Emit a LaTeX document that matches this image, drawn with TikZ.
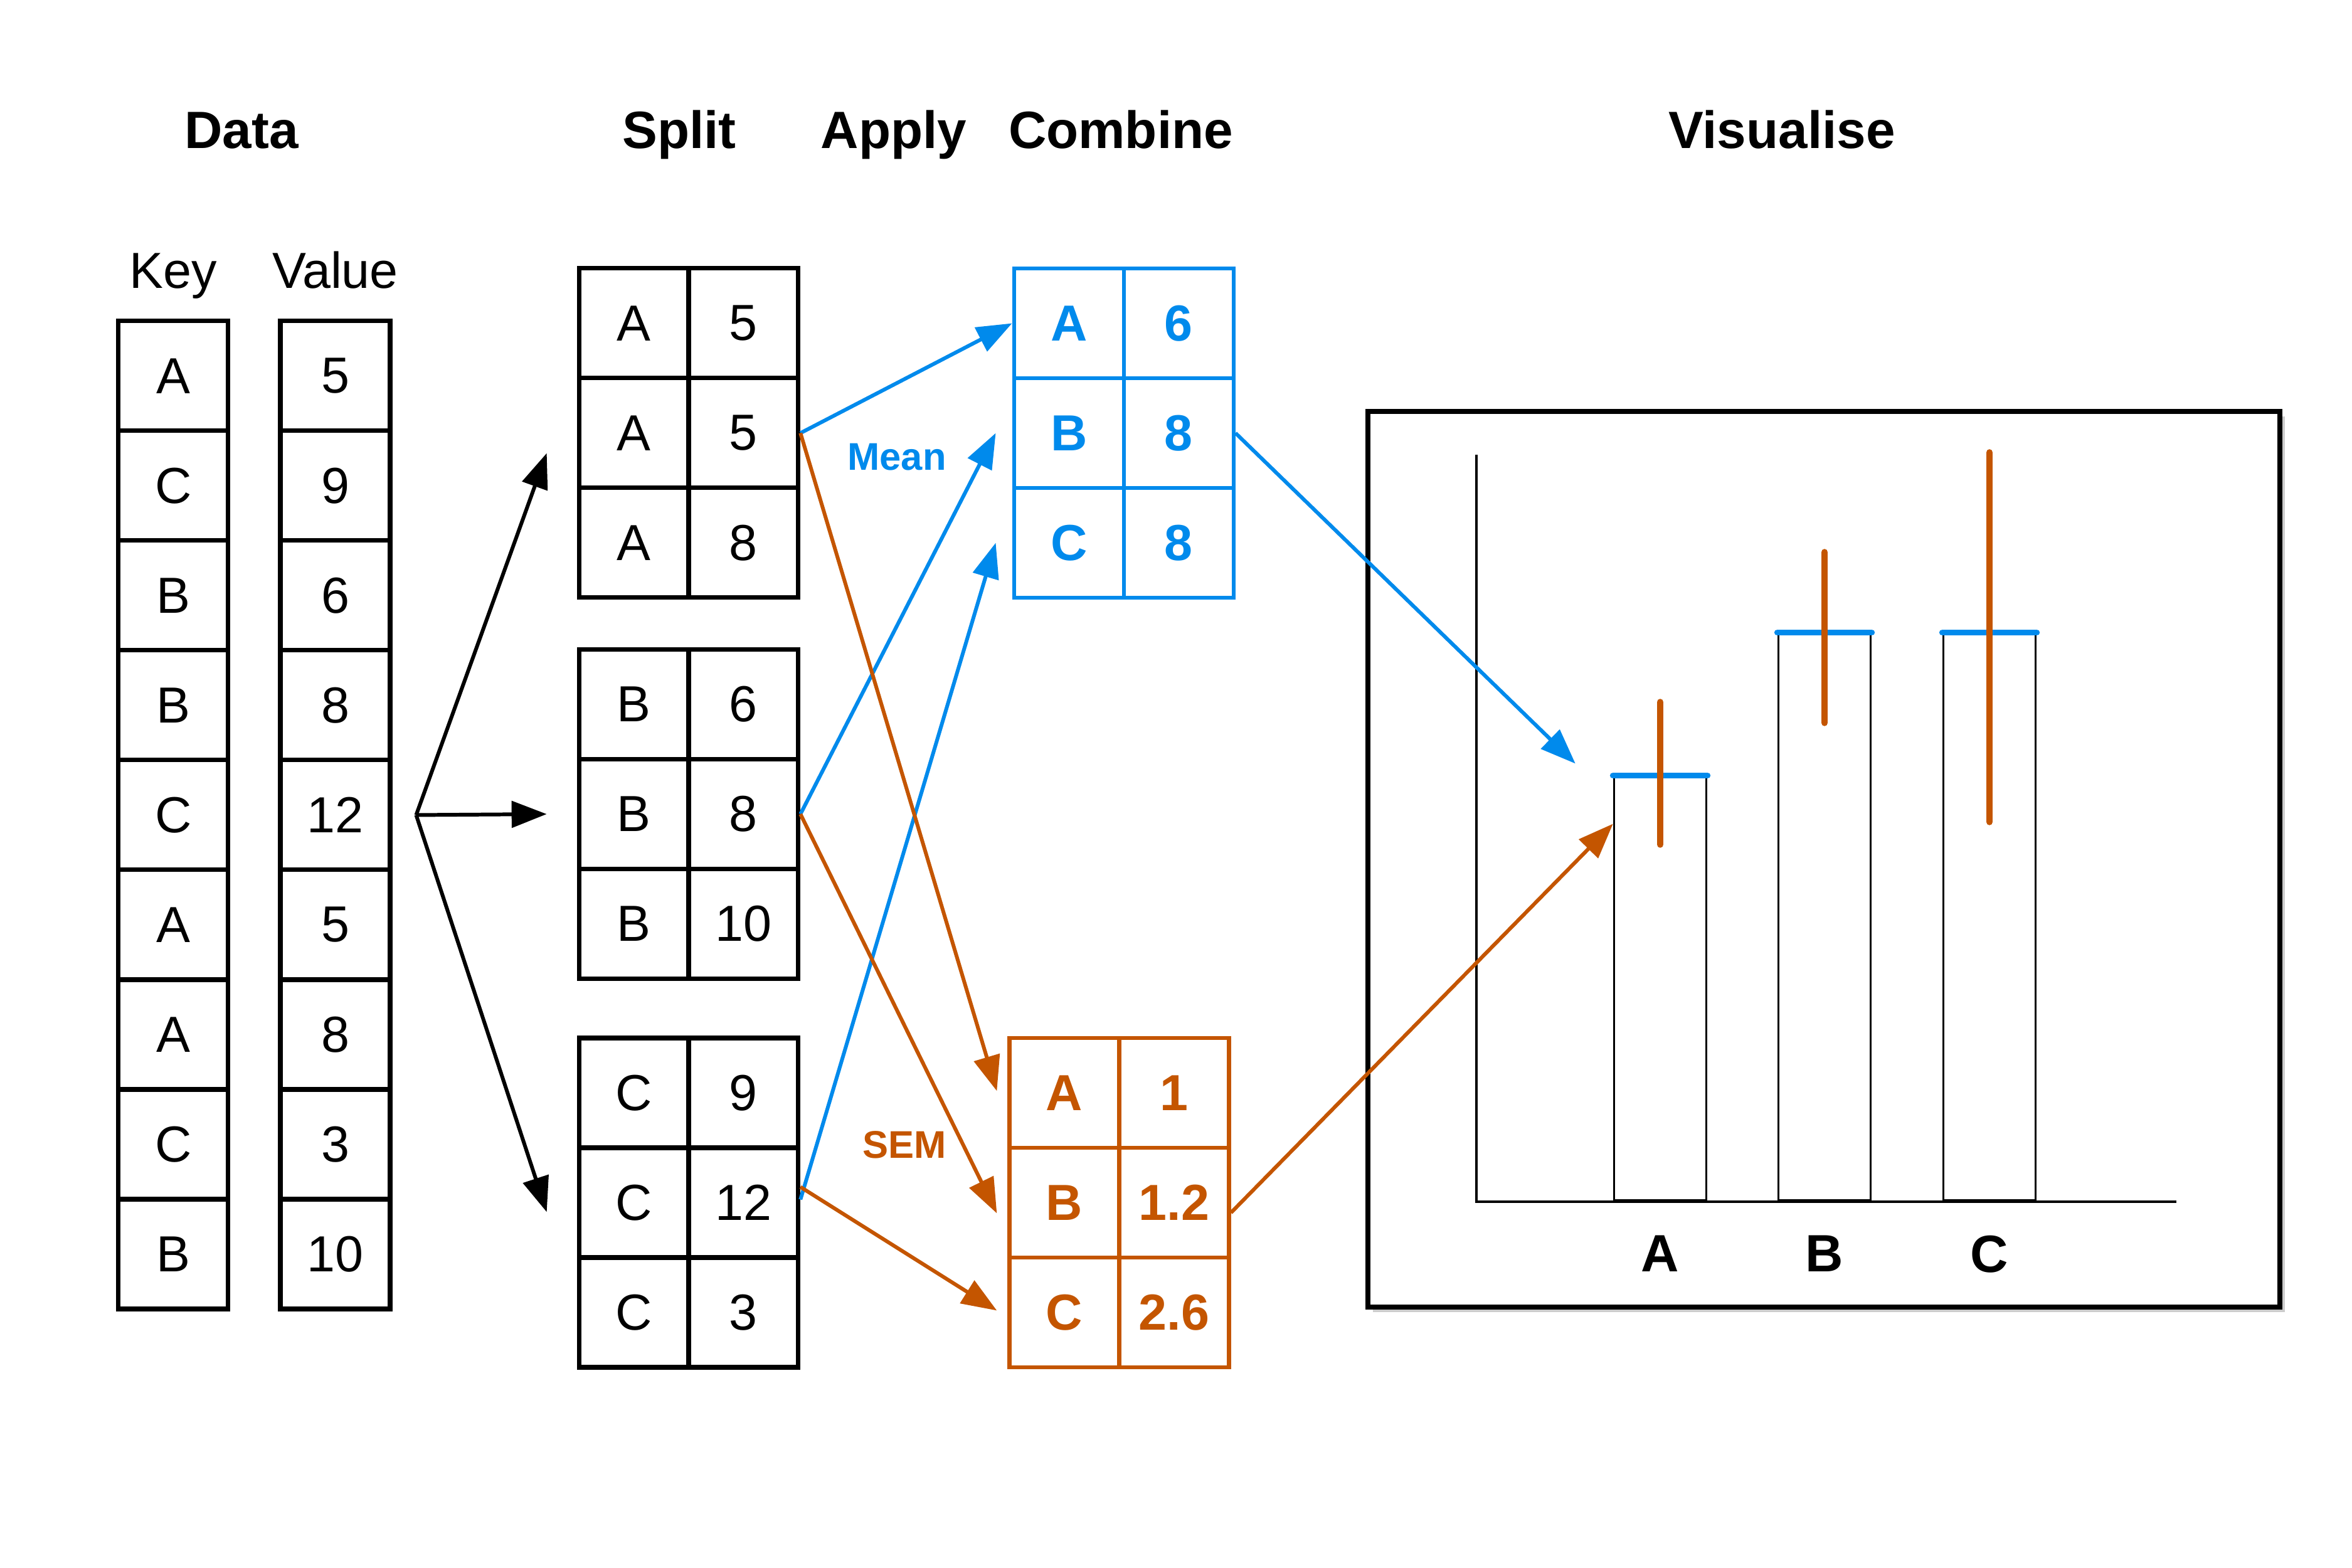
\documentclass[tikz,border=0pt]{standalone}
\usepackage{fontspec}
\setmainfont{Liberation Sans}
\usepackage{xcolor}
\usepackage{tikz}
\usetikzlibrary{positioning, arrows.meta, shadows}
\definecolor{meanblue}{HTML}{008AEC}
\definecolor{semorange}{HTML}{C45500}

\begin{document}
\begin{tikzpicture}[
    cell/.style={draw, line width=2pt, minimum size=1.75cm, inner sep=0pt,
                 font=\fontsize{23}{27}\selectfont},
    meancell/.style={cell, draw=meanblue, text=meanblue, line width=1.8pt,
                     font=\fontsize{23}{27}\selectfont\bfseries},
    semcell/.style={meancell, draw=semorange, text=semorange},
    heading/.style={anchor=base, font=\fontsize{23.8}{28}\selectfont\bfseries},
    colname/.style={font=\fontsize{23}{27}\selectfont},
    funcname/.style={font=\fontsize{17.5}{21}\selectfont\bfseries},
    bigtip/.style={line width=1.7pt, -{Triangle[length=0.56cm, width=0.42cm]}},
    bar/.style={draw, line width=1pt, minimum width=1.47cm, anchor=south, inner sep=0pt},
    meanline/.style={meanblue, line width=2.8pt, line cap=round},
    errline/.style={semorange, line width=3pt, line cap=round},
  ]
    \useasboundingbox (0,0) rectangle (37.5,25);

    \node[heading] (data) at (3.85,22.63) {Data};
    \node[heading] (split) at (10.83,22.63) {Split};
    \node[heading] (apply) at (14.25,22.63) {Apply};
    \node[heading] (combine) at (17.87,22.63) {Combine};
    \node[heading] (visualise) at (28.41,22.63) {Visualise};

    \foreach \k/\v [count=\i] in {A/5, C/9, B/6, B/8, C/12, A/5, A/8, C/3, B/10} {
      \node[cell] (key\i) at (2.762,20.755-1.75*\i) {\k};
      \node[cell] (val\i) at (5.345,20.755-1.75*\i) {\v};
    }
    \node[colname, above=0.485cm of key1.north, anchor=base] (keyname) {Key};
    \node[colname, above=0.485cm of val1.north, anchor=base] (valname) {Value};

    \foreach \v [count=\j] in {5,5,8} {
      \node[cell] (sa-\j-k) at (10.107,21.595-1.75*\j) {A};
      \node[cell] (sa-\j-v) at (11.852,21.595-1.75*\j) {\v};
    }
    \foreach \v [count=\j] in {6,8,10} {
      \node[cell] (sb-\j-k) at (10.107,15.52-1.75*\j) {B};
      \node[cell] (sb-\j-v) at (11.852,15.52-1.75*\j) {\v};
    }
    \foreach \v [count=\j] in {9,12,3} {
      \node[cell] (sc-\j-k) at (10.107,9.325-1.75*\j) {C};
      \node[cell] (sc-\j-v) at (11.852,9.325-1.75*\j) {\v};
    }

    \foreach \k/\v [count=\j] in {A/6, B/8, C/8} {
      \node[meancell] (mean-\j-k) at (17.042,21.595-1.75*\j) {\k};
      \node[meancell] (mean-\j-v) at (18.792,21.595-1.75*\j) {\v};
    }
    \foreach \k/\v [count=\j] in {A/1, B/1.2, C/2.6} {
      \node[semcell] (sem-\j-k) at (16.97,9.325-1.75*\j) {\k};
      \node[semcell] (sem-\j-v) at (18.72,9.325-1.75*\j) {\v};
    }

    % split arrows
    \coordinate[right=0.38cm of val5.east] (fork);
    \coordinate[below left=0.32cm and 0.48cm of sa-2-k.west] (tosa);
    \coordinate[left=0.48cm of sb-2-k.west] (tosb);
    \coordinate[below left=0.15cm and 0.48cm of sc-2-k.west] (tosc);
    \draw[bigtip] (fork) -- (tosa);
    \draw[bigtip] (fork) -- (tosb);
    \draw[bigtip] (fork) -- (tosc);

    % apply arrows
    \coordinate[left=0.26cm of mean-2-k.west] (tomean2);
    \coordinate[left=0.26cm of mean-3-k.west] (tomean3);
    \coordinate[above left=0.03cm and 0.17cm of sem-1-k.west] (tosem1);
    \coordinate[below left=0.17cm and 0.17cm of sem-2-k.west] (tosem2);
    \coordinate[above left=0.03cm and 0.17cm of sem-3-k.west] (tosem3);
    \draw[bigtip, meanblue] (sa-2-v.east) -- (mean-1-k.west);
    \draw[bigtip, meanblue] (sb-2-v.east) -- (tomean2);
    \draw[bigtip, meanblue] ([yshift=0.05cm]sc-2-v.east) -- (tomean3);
    \draw[bigtip, semorange] (sa-2-v.east) -- (tosem1);
    \draw[bigtip, semorange] (sb-2-v.east) -- (tosem2);
    \draw[bigtip, semorange] ([yshift=0.25cm]sc-2-v.east) -- (tosem3);
    \node[funcname, text=meanblue] (meanname) at (14.30,17.71) {Mean};
    \node[funcname, text=semorange] (semname) at (14.42,6.75) {SEM};

    % plot
    \node[draw, line width=2.4pt, fill=white, minimum width=14.54cm, minimum height=14.28cm,
          drop shadow={opacity=0.4, shadow xshift=0.08cm, shadow yshift=-0.08cm}]
          (frame) at (29.08,11.30) {};
    \coordinate (origin) at (23.54,5.84);
    \draw[line width=1pt] (23.54,17.75) -- (origin) -- (34.70,5.84);
    \node[bar, minimum height=6.76cm] (barA) at (26.47,5.84) {};
    \node[bar, minimum height=9.04cm] (barB) at (29.09,5.84) {};
    \node[bar, minimum height=9.04cm] (barC) at (31.72,5.84) {};
    \draw[meanline] (barA.north west) -- (barA.north east);
    \draw[meanline] (barB.north west) -- (barB.north east);
    \draw[meanline] (barC.north west) -- (barC.north east);
    \draw[errline] ([yshift=-1.1cm]barA.north) -- ([yshift=1.17cm]barA.north);
    \draw[errline] ([yshift=-1.44cm]barB.north) -- ([yshift=1.28cm]barB.north);
    \draw[errline] ([yshift=-3.02cm]barC.north) -- ([yshift=2.87cm]barC.north);
    \node[heading, inner sep=0pt, below=0.53cm of barA.south] (labA) {A};
    \node[heading, inner sep=0pt, below=0.53cm of barB.south] (labB) {B};
    \node[heading, inner sep=0pt, below=0.53cm of barC.south] (labC) {C};

    \coordinate[above left=0.19cm and 0.6cm of barA.north west] (meantip);
    \coordinate[below=0.77cm of barA.north west] (semtip);
    \draw[bigtip, meanblue] (mean-2-v.east) -- (meantip);
    \draw[bigtip, semorange] ([yshift=-0.16cm]sem-2-v.east) -- (semtip);
\end{tikzpicture}
\end{document}
